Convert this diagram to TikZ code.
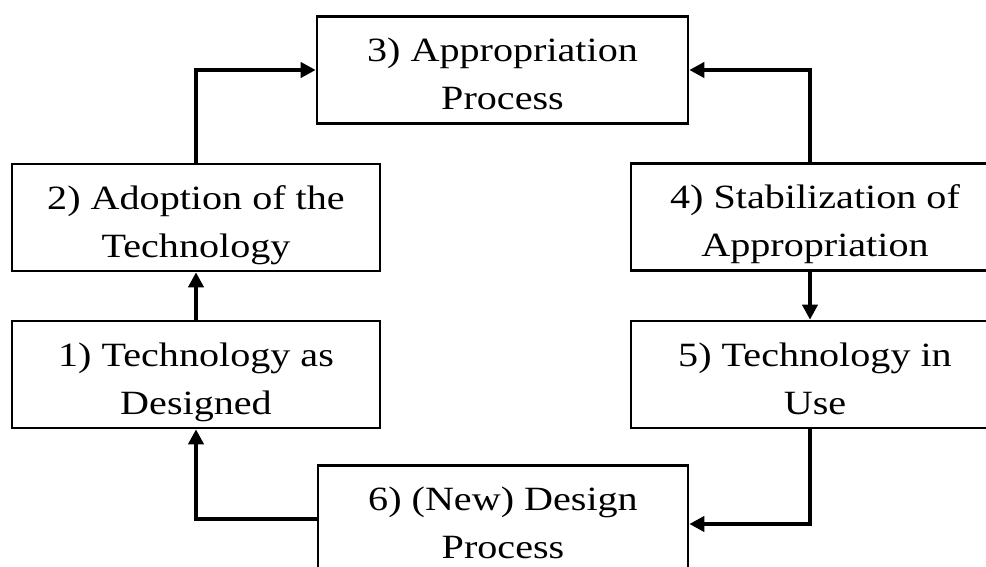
\documentclass[tikz,border=0pt]{standalone}
\usepackage{fontspec}
\setmainfont{Liberation Serif}[FakeStretch=1.18]
\usepackage{tikz}
\usetikzlibrary{arrows.meta,positioning}
\definecolor{ink}{HTML}{000000}
\tikzset{
  stage/.style={draw=ink, line width=1.3pt, fill=white, text=ink, align=center,
                minimum width=184pt, minimum height=53.5pt, inner sep=0pt,
                text height=43.5pt, text depth=4pt,
                font=\fontsize{17pt}{24pt}\selectfont},
  link/.style={-{Triangle[length=7.5pt,width=7.5pt]}, line width=2.3pt, draw=ink}
}

\begin{document}
\begin{tikzpicture}[x=0.5pt, y=-0.5pt]
  \useasboundingbox (0,0) rectangle (986,567);
  \node[stage] (tech) at (196,374.5) {1) Technology as\\Designed};
  \node[stage] (adopt) at (196,217.5) {2) Adoption of the\\Technology};
  \node[stage, minimum width=185.5pt] (approp) at (502.5,70) {3) Appropriation\\Process};
  \node[stage] (stab) at (815,217) {4) Stabilization of\\Appropriation};
  \node[stage] (use) at (815,374.5) {5) Technology in\\Use};
  \node[stage, minimum width=185pt] (design) at (503,519) {6) (New) Design\\Process};
  \draw[link] (tech) -- (adopt);
  \draw[link] (adopt.north) |- (approp.west);
  \draw[link] ([xshift=-2.5pt]stab.north) |- (approp.east);
  \draw[link] ([xshift=-2.5pt]stab.south) -- ([xshift=-2.5pt]use.north);
  \draw[link] ([xshift=-2.5pt]use.south) |- ([yshift=-2.5pt]design.east);
  \draw[link] (design.west) -| (tech.south);
\end{tikzpicture}
\end{document}
